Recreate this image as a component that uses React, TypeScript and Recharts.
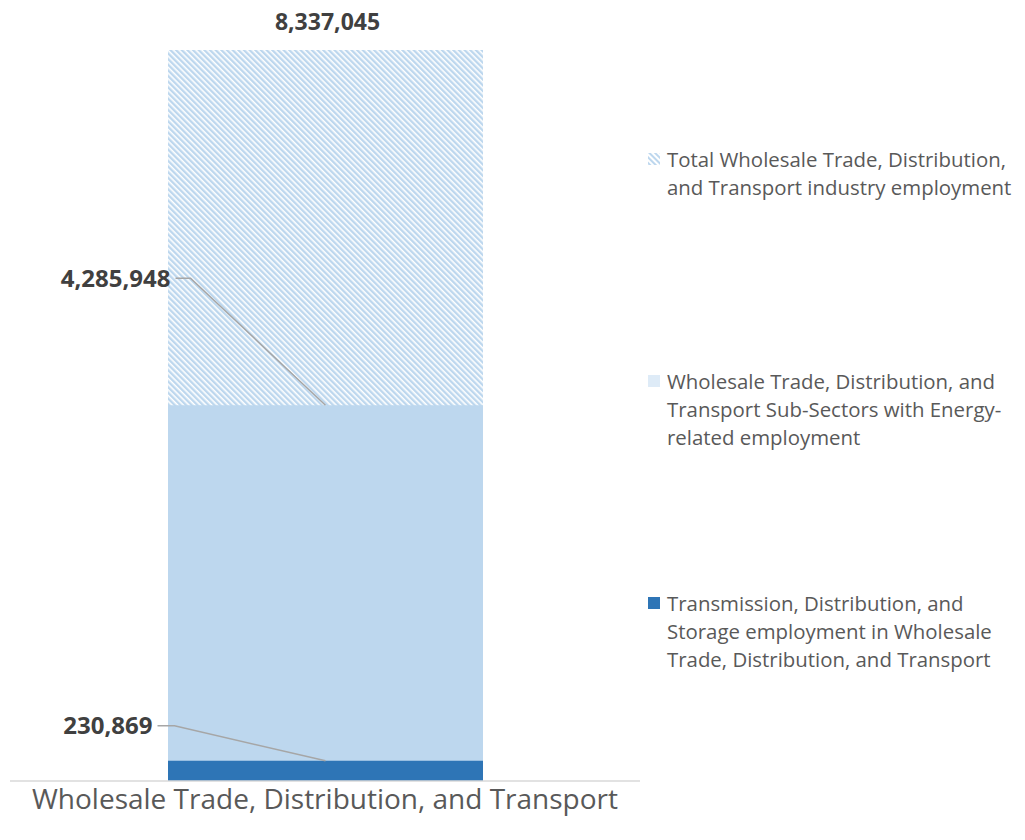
import { BarChart, Bar, XAxis, YAxis, Legend, LabelList } from "recharts";

const categories = ["Wholesale Trade, Distribution, and Transport"];
const totalEmployment = [8337045];
const energySubSectors = [4285948];
const tdsEmployment = [230869];

const seriesNames = {
  total: "Total Wholesale Trade, Distribution,\nand Transport industry employment",
  energy: "Wholesale Trade, Distribution, and\nTransport Sub-Sectors with Energy-\nrelated employment",
  tds: "Transmission, Distribution, and\nStorage employment in Wholesale\nTrade, Distribution, and Transport",
};

const data = categories.map((c, i) => ({
  name: c,
  total: totalEmployment[i],
  energy: energySubSectors[i],
  tds: tdsEmployment[i],
}));

const FONT = "'Open Sans', 'Noto Sans', sans-serif";
const LIGHT = "#BDD7EE";
const DARK = "#2E75B6";
const fmt = (v: number) => v.toLocaleString("en-US");

function TopLabel(props: any) {
  const { x, y, width, value } = props;
  return (
    <text x={x + width / 2 + 2} y={y - 20} textAnchor="middle" fontFamily={FONT} fontSize={23} fontWeight={700} fill="#404040">
      {fmt(value)}
    </text>
  );
}

// leader-line label, offsets relative to the bar's top centre
function leaderLabel(dx: number, dy: number, elbow: number) {
  return (props: any) => {
    const { x, y, width, value } = props;
    const cx = x + width / 2;
    const tx = cx + dx;
    const ty = y + dy;
    return (
      <g>
        <polyline
          points={`${cx},${y} ${tx + elbow},${ty} ${tx + 5},${ty}`}
          fill="none" stroke="#A6A6A6" strokeWidth={1.5}
        />
        <text x={tx} y={ty} dy="0.36em" textAnchor="end" fontFamily={FONT} fontSize={24} fontWeight={700} fill="#404040">
          {fmt(value)}
        </text>
      </g>
    );
  };
}

function Swatch({ kind }: { kind: string }) {
  return (
    <svg width={12} height={12} style={{ position: "absolute", left: 0, top: 8 }}>
      <defs>
        <pattern id="hatchSmall" width={4} height={4} patternUnits="userSpaceOnUse" patternTransform="rotate(-45)">
          <rect width={4} height={4} fill="#fff" />
          <rect width={2} height={4} fill={LIGHT} />
        </pattern>
      </defs>
      <rect width={12} height={12} fill={kind === "total" ? "url(#hatchSmall)" : kind === "energy" ? "#DEEBF7" : DARK} />
    </svg>
  );
}

function LegendBox() {
  const items = ["total", "energy", "tds"] as const;
  return (
    <div style={{ fontFamily: FONT, fontSize: 20.4, color: "#595959", lineHeight: "28px", textAlign: "left" }}>
      {items.map((k) => (
        <div key={k} style={{ position: "relative", height: 222, paddingLeft: 19, whiteSpace: "pre-line" }}>
          <Swatch kind={k} />
          {seriesNames[k]}
        </div>
      ))}
    </div>
  );
}

export default function App() {
  return (
    <div style={{ width: 1017, height: 832, background: "#fff" }}>
      <BarChart width={1017} height={832} data={data} margin={{ top: 42, right: 385, left: 2, bottom: 0 }}>
        <defs>
          <pattern id="hatch" width={4} height={4} patternUnits="userSpaceOnUse" patternTransform="rotate(-45)">
            <rect width={4} height={4} fill="#fff" />
            <rect width={2.4} height={4} fill={LIGHT} />
          </pattern>
        </defs>
        <XAxis xAxisId="a" dataKey="name" height={59} interval={0} axisLine={{ stroke: "#D9D9D9", strokeWidth: 1.5 }} tickLine={false}
          tick={{ fontSize: 28, fill: "#595959", fontFamily: FONT }} />
        <XAxis xAxisId="b" dataKey="name" hide />
        <XAxis xAxisId="c" dataKey="name" hide />
        <YAxis hide domain={[0, "dataMax"]} />
        <Legend
          layout="vertical" align="center" verticalAlign="middle"
          wrapperStyle={{ position: "absolute", left: 640, top: 137, width: 385 }}
          content={() => <LegendBox />}
        />
        <Bar xAxisId="a" dataKey="total" name={seriesNames.total} fill="url(#hatch)" barSize={315} isAnimationActive={false}>
          <LabelList dataKey="total" content={TopLabel} />
        </Bar>
        <Bar xAxisId="b" dataKey="energy" name={seriesNames.energy} fill={LIGHT} barSize={315} isAnimationActive={false}>
          <LabelList dataKey="energy" content={leaderLabel(-155, -127, 20)} />
        </Bar>
        <Bar xAxisId="c" dataKey="tds" name={seriesNames.tds} fill={DARK} barSize={315} isAnimationActive={false}>
          <LabelList dataKey="tds" content={leaderLabel(-173, -35, 22)} />
        </Bar>
      </BarChart>
    </div>
  );
}
